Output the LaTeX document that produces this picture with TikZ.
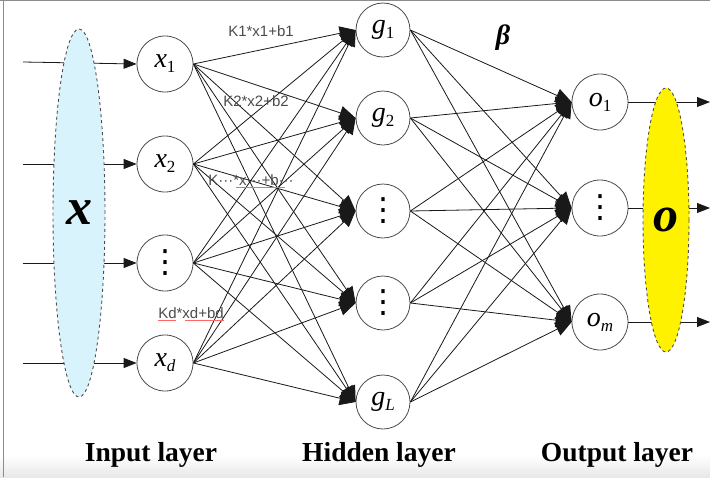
\documentclass[tikz,border=0pt]{standalone}
\usepackage{fontspec}
\setmainfont{Liberation Serif}
\newfontfamily\labsans{Liberation Sans}
\newfontfamily\symfont{DejaVu Sans}
\usetikzlibrary{shapes.geometric,arrows.meta}
\newcommand\nlab[2]{{\fontsize{28}{28}\selectfont\itshape #1}\raisebox{-5pt}{\fontsize{17}{17}\selectfont #2}}
\newcommand\vdotsbig{{\symfont\fontsize{32}{32}\selectfont ⋮}}
\begin{document}
\begin{tikzpicture}[x=1pt,y=-1pt,
  neuron/.style={circle,draw=black!70,line width=0.8pt,fill=white,minimum size=56pt,inner sep=0pt},
  hneuron/.style={neuron,minimum size=54pt},
  conn/.style={draw=black!90,line width=0.8pt,-{Triangle[length=16pt,width=14pt]}},
  inarrow/.style={draw=black!90,line width=0.8pt,-{Triangle[length=13pt,width=10pt]}},
  klab/.style={font=\labsans\fontsize{15}{15}\selectfont,text=black!70,inner sep=0pt},
  layerlab/.style={font=\fontsize{27.5}{27.5}\selectfont\bfseries,inner sep=0pt},
  vecx/.style={ellipse,draw=black!70,dashed,line width=0.9pt,inner sep=0pt},
  spell/.style={draw=red!60,line width=0.5pt}
]
\useasboundingbox (0,0) rectangle (710,477);
\shade[top color=white,bottom color=black!9] (0,455) rectangle (710,477);
\draw[black!45,line width=0.8pt] (3,0) -- (3,477);
\draw[black!45,line width=0.8pt] (0,0.5) -- (710,0.5);

% input neurons
\node[neuron] (i1) at (165,64) {\nlab{x}{1}};
\node[neuron] (i2) at (165,164) {\nlab{x}{2}};
\node[neuron] (i3) at (165,263) {\vdotsbig};
\node[neuron] (i4) at (165,363) {\nlab{x}{\itshape d}};

% hidden neurons
\node[hneuron] (h1) at (383,30) {\nlab{g}{1}};
\node[hneuron] (h2) at (383,118) {\nlab{g}{2}};
\node[hneuron] (h3) at (383,211) {\vdotsbig};
\node[hneuron] (h4) at (383,303) {\vdotsbig};
\node[hneuron] (h5) at (383,402) {\nlab{g}{\itshape L}};

% output neurons
\node[neuron] (o1) at (600,102) {\nlab{o}{1}};
\node[neuron] (o2) at (600,208) {\vdotsbig};
\node[neuron] (o3) at (600,322) {\nlab{o}{\itshape m}};

% input arrows
\foreach \k/\y in {1/62,2/164,3/263,4/363}{
  \coordinate (s\k) at (23,\y);
  \draw[inarrow] (s\k) -- (i\k.west);
}
% output arrows
\foreach \k/\y in {1/102,2/208,3/322}{
  \coordinate (t\k) at (710,\y);
  \draw[inarrow] (o\k.east) -- (t\k);
}

% input -> hidden
\foreach \a in {1,...,4}{
  \foreach \b in {1,...,5}{
    \draw[conn] (i\a.east) -- (h\b.west);
  }
}
% hidden -> output
\foreach \a in {1,...,5}{
  \foreach \b in {1,2,3}{
    \draw[conn] (h\a.east) -- (o\b.west);
  }
}

% vector ellipses
\node[vecx,fill=cyan!15!white,minimum width=52pt,minimum height=368pt] (ex) at (79,213)
  {\fontsize{52}{52}\selectfont\bfseries\itshape x};
\node[vecx,fill=yellow,minimum width=46pt,minimum height=264pt] (eo) at (666,220)
  {\fontsize{50}{50}\selectfont\bfseries\itshape o};

% weight labels
\node[klab] (k1) at (261,31) {K1*x1+b1};
\node[klab] (k2) at (256,101) {K2*x2+b2};
\node[klab] (k3) at (251,180) {K\textperiodcentered\textperiodcentered\textperiodcentered*x\textperiodcentered\textperiodcentered\textperiodcentered+b\textperiodcentered\textperiodcentered\textperiodcentered};
\node[klab] (kd) at (191,313) {Kd*xd+bd};
\draw[spell] ([xshift=28pt,yshift=-2pt]k3.south west) -- ([xshift=-9pt,yshift=-2pt]k3.south east);
\draw[spell] ([yshift=-2pt]kd.south west) -- ([xshift=18pt,yshift=-2pt]kd.south west);
\draw[spell] ([xshift=27pt,yshift=-2pt]kd.south west) -- ([yshift=-2pt]kd.south east);

% beta
\node[font=\fontsize{28}{28}\selectfont\bfseries\itshape] (beta) at (503,38) {β};

% layer labels
\node[layerlab] (lin) at (151,455) {Input layer};
\node[layerlab] (lhid) at (379,455) {Hidden layer};
\node[layerlab] (lout) at (617,455) {Output layer};
\end{tikzpicture}
\end{document}
